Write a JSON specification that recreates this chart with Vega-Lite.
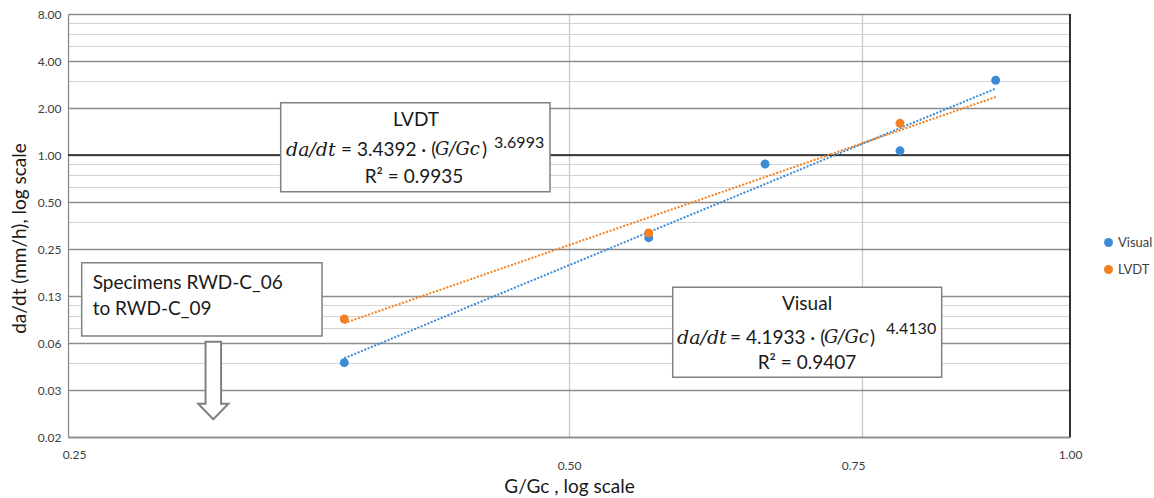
{
  "$schema": "https://vega.github.io/schema/vega-lite/v6.json",
  "width": 1002,
  "height": 423,
  "autosize": {"type": "none"},
  "padding": {"left": 68, "top": 14, "right": 84, "bottom": 61},
  "background": "white",
  "config": {
    "view": {"stroke": null},
    "font": "Lato",
    "axis": {"labelFont": "Lato", "titleFont": "Lato", "titleFontWeight": "normal", "labelFlush": false, "labelOverlap": false}
  },
  "datasets": {
    "points": [
      {"series": "Visual", "x": 0.3664, "y": 0.0468},
      {"series": "Visual", "x": 0.5583, "y": 0.2954},
      {"series": "Visual", "x": 0.6558, "y": 0.8758},
      {"series": "Visual", "x": 0.7904, "y": 1.064},
      {"series": "Visual", "x": 0.9023, "y": 3.01},
      {"series": "LVDT", "x": 0.3664, "y": 0.089},
      {"series": "LVDT", "x": 0.5583, "y": 0.3166},
      {"series": "LVDT", "x": 0.7904, "y": 1.595}
    ],
    "trendVisual": [
      {"series": "Visual", "x": 0.3664, "y": 0.04992},
      {"series": "Visual", "x": 0.9023, "y": 2.664}
    ],
    "trendLVDT": [
      {"series": "LVDT", "x": 0.3664, "y": 0.08383},
      {"series": "LVDT", "x": 0.9023, "y": 2.3512}
    ],
    "boxes": [
      {"name": "LVDT", "x0": 0.33554, "x1": 0.48704, "y0": 2.16264, "y1": 0.58193},
      {"name": "Visual", "x0": 0.57715, "x1": 0.83732, "y0": 0.1421, "y1": 0.03768},
      {"name": "Specimens", "x0": 0.25478, "x1": 0.35527, "y0": 0.20431, "y1": 0.06931}
    ],
    "textCenter": [
      {"label": "LVDT", "x": 0.4046, "y": 1.6759},
      {"label": "R² = 0.9935", "x": 0.4035, "y": 0.7229},
      {"label": "Visual", "x": 0.695, "y": 0.11106},
      {"label": "R² = 0.9407", "x": 0.695, "y": 0.04652}
    ],
    "textLeft": [
      {"label": "= 3.4392 · (", "x": 0.36475, "y": 1.0762},
      {"label": ")", "x": 0.4433, "y": 1.0762},
      {"label": "= 4.1933 · (", "x": 0.62476, "y": 0.06726},
      {"label": ")", "x": 0.75827, "y": 0.06726},
      {"label": "Specimens RWD-C_06", "x": 0.25869, "y": 0.15141},
      {"label": "to RWD-C_09", "x": 0.25869, "y": 0.10316}
    ],
    "textItalicRate": [
      {"label": "da/dt", "x": 0.338, "y": 1.0762},
      {"label": "da/dt", "x": 0.58059, "y": 0.06726}
    ],
    "textItalicRatio": [
      {"label": "G/Gc", "x": 0.4154, "y": 1.0762},
      {"label": "G/Gc", "x": 0.71151, "y": 0.06726}
    ],
    "textSup": [
      {"label": "3.6993", "x": 0.45074, "y": 1.1934},
      {"label": "4.4130", "x": 0.77523, "y": 0.07681}
    ],
    "arrow": [{"x": 0.30567, "y": 0.03595}],
    "unit": [{"v": 1, "lo": 0.015625, "hi": 8}]
  },
  "resolve": {"axis": {"x": "independent", "y": "independent"}},
  "layer": [
    {
      "data": {"name": "points"},
      "mark": {"type": "point", "opacity": 0},
      "encoding": {
        "x": {
          "field": "x", "type": "quantitative",
          "scale": {"type": "log", "base": 2, "domain": [0.25, 1], "nice": false, "zero": false},
          "axis": {"orient": "bottom", "values": [0.5, 0.75], "format": ".2f", "grid": true, "gridColor": "#c9c9c9", "gridWidth": 1.3, "ticks": false, "domain": false, "labelPadding": 23, "labelFontSize": 12, "labelColor": "#404040", "labelOffset": {"condition": {"test": "datum.value > 0.7", "value": -9}, "value": 0}, "title": "G/Gc , log scale", "titleFontSize": 19, "titleColor": "#1a1a1a", "titlePadding": 6}
        },
        "y": {
          "field": "y", "type": "quantitative",
          "scale": {"type": "log", "base": 2, "domain": [0.015625, 8], "nice": false, "zero": false},
          "axis": {"orient": "left", "values": [0.046875, 0.078125, 0.09375, 0.109375, 0.375, 0.625, 0.75, 0.875, 3, 5, 6, 7], "grid": true, "gridColor": "#d4d4d4", "gridWidth": 1.2, "labels": false, "ticks": false, "domain": false, "title": null}
        }
      }
    },
    {
      "data": {"name": "points"},
      "mark": {"type": "point", "opacity": 0},
      "encoding": {
        "x": {
          "field": "x", "type": "quantitative",
          "axis": {"orient": "bottom", "values": [0.25, 1], "format": ".2f", "grid": false, "ticks": false, "domain": true, "domainColor": "#8c8c8c", "domainWidth": 1.3, "labelPadding": 12, "labelFontSize": 12, "labelColor": "#404040", "labelOffset": {"condition": {"test": "datum.value < 0.3", "value": 6}, "value": 0}, "title": null}
        },
        "y": {
          "field": "y", "type": "quantitative",
          "axis": {"orient": "left", "values": [0.015625, 0.03125, 0.0625, 0.125, 0.25, 0.5, 1, 2, 4, 8], "format": ".2f", "grid": true, "gridColor": "#8c8c8c", "gridWidth": 1.3, "ticks": false, "domain": true, "domainColor": "#8c8c8c", "domainWidth": 1.3, "labelPadding": 7, "labelFontSize": 12, "labelColor": "#404040", "title": "da/dt (mm/h), log scale", "titleFontSize": 19, "titleColor": "#1a1a1a", "titlePadding": 8, "titleY": 224}
        }
      }
    },
    {
      "data": {"name": "unit"},
      "mark": {"type": "rule", "color": "#1a1a1a", "strokeWidth": 1.8},
      "encoding": {
        "x": {"field": "v", "type": "quantitative", "axis": null},
        "y": {"field": "lo", "type": "quantitative", "axis": null},
        "y2": {"field": "hi"}
      }
    },
    {
      "data": {"name": "unit"},
      "mark": {"type": "rule", "color": "#1a1a1a", "strokeWidth": 1.6},
      "encoding": {"y": {"field": "v", "type": "quantitative", "axis": null}}
    },
    {
      "data": {"name": "boxes"},
      "mark": {"type": "rect", "fill": "white", "stroke": "#808080", "strokeWidth": 1.5},
      "encoding": {
        "x": {"field": "x0", "type": "quantitative", "axis": null},
        "x2": {"field": "x1"},
        "y": {"field": "y0", "type": "quantitative", "axis": null},
        "y2": {"field": "y1"}
      }
    },
    {
      "data": {"name": "trendVisual"},
      "mark": {"type": "line", "strokeWidth": 2, "strokeDash": [2, 1.6], "color": "#3b8ad6"},
      "encoding": {
        "x": {"field": "x", "type": "quantitative", "axis": null},
        "y": {"field": "y", "type": "quantitative", "axis": null}
      }
    },
    {
      "data": {"name": "trendLVDT"},
      "mark": {"type": "line", "strokeWidth": 2, "strokeDash": [2, 1.6], "color": "#f4801f"},
      "encoding": {
        "x": {"field": "x", "type": "quantitative", "axis": null},
        "y": {"field": "y", "type": "quantitative", "axis": null}
      }
    },
    {
      "data": {"name": "points"},
      "mark": {"type": "point", "filled": true, "size": 80, "opacity": 1},
      "encoding": {
        "x": {"field": "x", "type": "quantitative", "axis": null},
        "y": {"field": "y", "type": "quantitative", "axis": null},
        "color": {
          "field": "series", "type": "nominal", "sort": null,
          "scale": {"domain": ["Visual", "LVDT"], "range": ["#3b8ad6", "#f4801f"]},
          "legend": {"orient": "none", "legendX": 1034, "legendY": 222, "title": null, "symbolType": "circle", "symbolSize": 80, "labelFontSize": 13, "labelFont": "Lato", "rowPadding": 13, "padding": 0, "labelOffset": 3, "labelColor": "#404040"}
        }
      }
    },
    {
      "data": {"name": "arrow"},
      "mark": {"type": "point", "shape": "M-0.2,-1L0.2,-1L0.2,0.6L0.39,0.6L0,1L-0.39,0.6L-0.2,0.6Z", "size": 6022, "filled": true, "fill": "white", "stroke": "#808080", "strokeWidth": 2, "opacity": 1},
      "encoding": {
        "x": {"field": "x", "type": "quantitative", "axis": null},
        "y": {"field": "y", "type": "quantitative", "axis": null}
      }
    },
    {
      "data": {"name": "textCenter"},
      "mark": {"type": "text", "align": "center", "baseline": "middle", "font": "Lato", "fontSize": 19, "color": "#1a1a1a"},
      "encoding": {
        "x": {"field": "x", "type": "quantitative", "axis": null},
        "y": {"field": "y", "type": "quantitative", "axis": null},
        "text": {"field": "label"}
      }
    },
    {
      "data": {"name": "textLeft"},
      "mark": {"type": "text", "align": "left", "baseline": "middle", "font": "Lato", "fontSize": 19, "color": "#1a1a1a"},
      "encoding": {
        "x": {"field": "x", "type": "quantitative", "axis": null},
        "y": {"field": "y", "type": "quantitative", "axis": null},
        "text": {"field": "label"}
      }
    },
    {
      "data": {"name": "textItalicRate"},
      "mark": {"type": "text", "align": "left", "baseline": "middle", "font": "DejaVu Serif", "fontStyle": "italic", "fontSize": 19, "color": "#1a1a1a"},
      "encoding": {
        "x": {"field": "x", "type": "quantitative", "axis": null},
        "y": {"field": "y", "type": "quantitative", "axis": null},
        "text": {"field": "label"}
      }
    },
    {
      "data": {"name": "textItalicRatio"},
      "mark": {"type": "text", "align": "left", "baseline": "middle", "font": "DejaVu Serif", "fontStyle": "italic", "fontSize": 18, "color": "#1a1a1a"},
      "encoding": {
        "x": {"field": "x", "type": "quantitative", "axis": null},
        "y": {"field": "y", "type": "quantitative", "axis": null},
        "text": {"field": "label"}
      }
    },
    {
      "data": {"name": "textSup"},
      "mark": {"type": "text", "align": "left", "baseline": "middle", "font": "Lato", "fontSize": 16, "color": "#1a1a1a"},
      "encoding": {
        "x": {"field": "x", "type": "quantitative", "axis": null},
        "y": {"field": "y", "type": "quantitative", "axis": null},
        "text": {"field": "label"}
      }
    }
  ]
}
